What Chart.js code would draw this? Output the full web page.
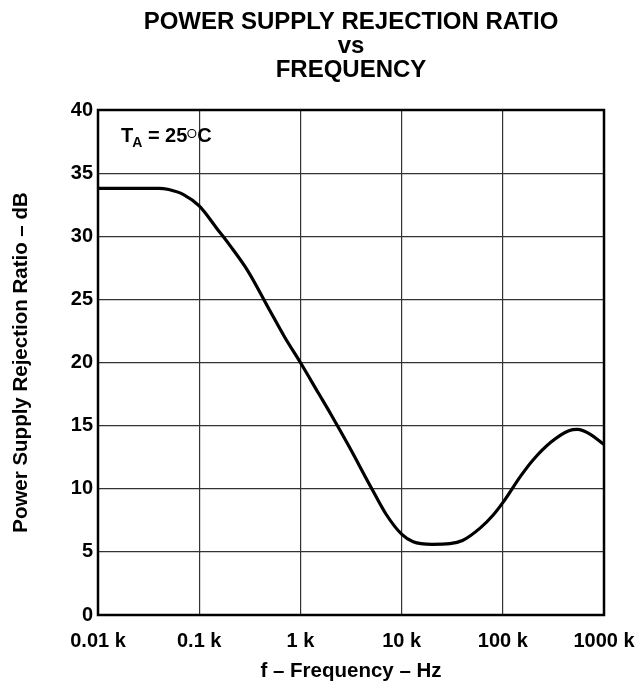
<!DOCTYPE html>
<html>
<head>
<meta charset="utf-8">
<script src="https://cdn.jsdelivr.net/npm/chart.js@4"></script>
<style>
  html, body { margin: 0; padding: 0; background: #fff; }
  #wrap { width: 640px; height: 689px; }
</style>
</head>
<body>
<div id="wrap"><canvas id="psrrChart"></canvas></div>
<script>
// frequency in kHz, PSRR in dB
var freqK = [0.01, 0.02, 0.03, 0.04, 0.05, 0.07, 0.1, 0.15, 0.2, 0.3, 0.5, 0.7, 1, 1.5, 2, 3, 5, 7, 10, 13, 20, 30, 40, 60, 80, 100, 150, 200, 300, 450, 550, 700, 1000];
var psrr  = [33.8, 33.8, 33.8, 33.8, 33.7, 33.3, 32.4, 30.6, 29.3, 27.3, 24.1, 22.0, 20.0, 17.6, 15.9, 13.4, 10.1, 8.0, 6.4, 5.8, 5.6, 5.65, 5.9, 6.9, 7.9, 8.9, 11.0, 12.3, 13.7, 14.6, 14.7, 14.4, 13.5];
var xTicks = [0.01, 0.1, 1, 10, 100, 1000];
var xTickLabels = ['0.01 k', '0.1 k', '1 k', '10 k', '100 k', '1000 k'];
var titleLines = ['POWER SUPPLY REJECTION RATIO', 'vs', 'FREQUENCY'];

var FONT = '"Liberation Sans", Arial, Helvetica, sans-serif';
Chart.defaults.font.family = FONT;
Chart.defaults.color = '#000';

var points = [];
for (var i = 0; i < freqK.length; i++) {
  points.push({ x: freqK[i], y: psrr[i] });
}

// box around plot + the T_A note
var framePlugin = {
  id: 'frame',
  afterDatasetsDraw: function(chart) {
    var ctx = chart.ctx, a = chart.chartArea;
    ctx.save();
    ctx.strokeStyle = '#000';
    ctx.lineWidth = 2.5;
    ctx.strokeRect(a.left, a.top, a.right - a.left, a.bottom - a.top);

    // T_A = 25°C
    var x = a.left + 23, y = a.top + 32;
    ctx.fillStyle = '#000';
    ctx.textBaseline = 'alphabetic';
    ctx.font = 'bold 20px ' + FONT;
    ctx.fillText('T', x, y);
    x += ctx.measureText('T').width - 1;
    ctx.font = 'bold 14px ' + FONT;
    ctx.fillText('A', x, y + 5);
    x += ctx.measureText('A').width;
    ctx.font = 'bold 20px ' + FONT;
    ctx.fillText(' = 25', x, y);
    x += ctx.measureText(' = 25').width;
    ctx.lineWidth = 1.1;
    ctx.beginPath();
    ctx.arc(x + 4.5, y - 8.5, 4, 0, Math.PI * 2);
    ctx.stroke();
    x += 10;
    ctx.fillText('C', x, y);
    ctx.restore();
  }
};

new Chart(document.getElementById('psrrChart'), {
  type: 'line',
  data: {
    datasets: [{
      data: points,
      borderColor: '#000',
      borderWidth: 3.2,
      pointRadius: 0,
      fill: false,
      cubicInterpolationMode: 'monotone'
    }]
  },
  options: {
    responsive: true,
    maintainAspectRatio: false,
    animation: false,
    layout: { padding: { left: 0, right: 36, top: 0, bottom: 0 } },
    plugins: {
      legend: { display: false },
      tooltip: { enabled: false },
      title: {
        display: true,
        fullSize: false,
        text: titleLines,
        color: '#000',
        font: { size: 24, weight: 'bold', lineHeight: 1 },
        padding: { top: 10, bottom: 28 }
      }
    },
    scales: {
      x: {
        type: 'logarithmic',
        min: 0.01,
        max: 1000,
        afterBuildTicks: function(scale) {
          scale.ticks = xTicks.map(function(v) { return { value: v }; });
        },
        afterFit: function(scale) {
          scale.height = 74;
          scale.paddingLeft = 0;
          scale.paddingRight = 0;
        },
        ticks: {
          autoSkip: false,
          maxRotation: 0,
          padding: 14,
          font: { size: 20, weight: 'bold' },
          callback: function(value) {
            var idx = xTicks.indexOf(value);
            return idx >= 0 ? xTickLabels[idx] : '';
          }
        },
        grid: { color: '#333', lineWidth: 1.2, drawTicks: false },
        border: { display: false },
        title: {
          display: true,
          text: 'f \u2013 Frequency \u2013 Hz',
          font: { size: 20.5, weight: 'bold' },
          padding: { top: 0, bottom: 5 }
        }
      },
      y: {
        min: 0,
        max: 40,
        afterFit: function(scale) { scale.width = 98; },
        ticks: {
          stepSize: 5,
          padding: 5,
          font: { size: 20, weight: 'bold' }
        },
        grid: { color: '#333', lineWidth: 1.2, drawTicks: false },
        border: { display: false },
        title: {
          display: true,
          text: 'Power Supply Rejection Ratio \u2013 dB',
          font: { size: 20.5, weight: 'bold' },
          padding: { top: 9, bottom: 0 }
        }
      }
    }
  },
  plugins: [framePlugin]
});
</script>
</body>
</html>
